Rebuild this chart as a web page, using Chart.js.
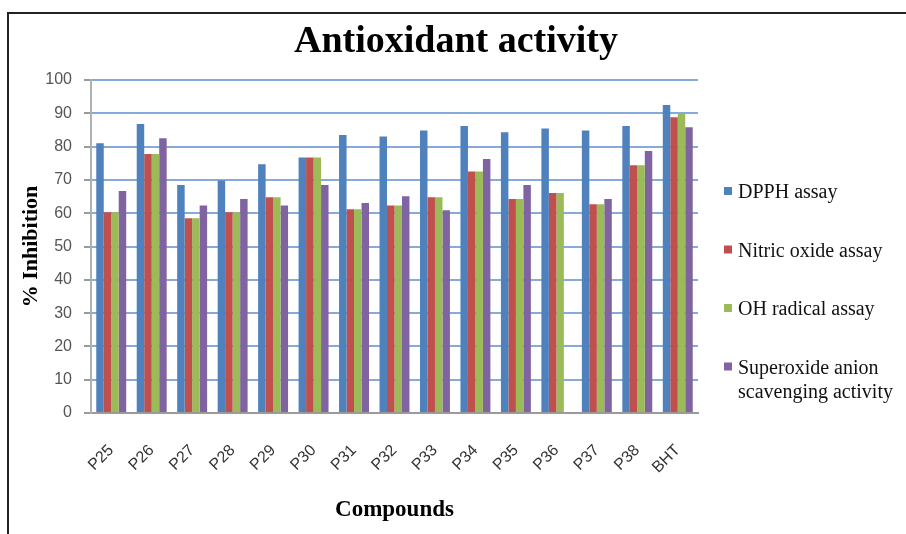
<!DOCTYPE html>
<html>
<head>
<meta charset="utf-8">
<script src="https://cdn.jsdelivr.net/npm/chart.js@4/dist/chart.umd.min.js"></script>
<style>
  html, body { margin: 0; padding: 0; background: #fff; overflow: hidden; }
  #wrap { position: relative; width: 906px; height: 534px; }
  #frame { position: absolute; left: 7px; top: 12px; width: 1000px; height: 700px; border: 2px solid #222; box-sizing: border-box; }
  canvas { position: absolute; left: 0; top: 0; }
</style>
</head>
<body>
<div id="wrap">
  <div id="frame"></div>
  <canvas id="c" width="906" height="534"></canvas>
</div>
<script>
const chartTitle = "Antioxidant activity";
const categories = ["P25","P26","P27","P28","P29","P30","P31","P32","P33","P34","P35","P36","P37","P38","BHT"];
const dpph       = [81.0, 86.8, 68.5, 69.8, 74.7, 76.7, 83.5, 83.0, 84.8, 86.2, 84.3, 85.4, 84.8, 86.2, 92.5];
const nitricOxide= [60.3, 77.8, 58.5, 60.3, 64.8, 76.7, 61.2, 62.3, 64.8, 72.5, 64.3, 66.1, 62.7, 74.4, 88.8];
const ohRadical  = [60.3, 77.8, 58.5, 60.3, 64.8, 76.7, 61.2, 62.3, 64.8, 72.5, 64.3, 66.1, 62.7, 74.4, 89.9];
const superoxide = [66.7, 82.5, 62.3, 64.3, 62.3, 68.5, 63.1, 65.1, 60.9, 76.3, 68.5, 0,    64.3, 78.7, 85.8];
const seriesLabels = [["DPPH assay"], ["Nitric oxide assay"], ["OH radical assay"], ["Superoxide anion", "scavenging activity"]];
const yTicks = [0,10,20,30,40,50,60,70,80,90,100];

const colors = ["#4F81BD", "#C0504D", "#9BBB59", "#8064A2"];
const seriesData = [dpph, nitricOxide, ohRadical, superoxide];

const titleAndLegendPlugin = {
  id: 'titleAndLegend',
  afterDraw(chart) {
    const ctx = chart.ctx;
    ctx.save();
    // title
    ctx.fillStyle = "#000";
    ctx.font = "bold 38px 'Liberation Serif', 'Times New Roman', serif";
    ctx.textAlign = "center";
    ctx.textBaseline = "alphabetic";
    ctx.fillText(chartTitle, 456, 52);
    // legend
    const startY = 191;
    const step = 58.5;
    chart.data.datasets.forEach((ds, i) => {
      const lines = seriesLabels[i];
      const y = startY + i * step;
      ctx.fillStyle = ds.backgroundColor;
      ctx.fillRect(724, y - 4, 8, 8);
      ctx.fillStyle = "#111";
      ctx.font = "20px 'Liberation Serif', 'Times New Roman', serif";
      ctx.textBaseline = "middle";
      ctx.textAlign = "left";
      lines.forEach((t, j) => ctx.fillText(t, 738, y + 2 + j * 24));
    });
    ctx.restore();
  }
};

new Chart(document.getElementById('c'), {
  type: 'bar',
  data: {
    labels: categories,
    datasets: seriesData.map((d, i) => ({
      label: seriesLabels[i].join(' '),
      data: d,
      backgroundColor: colors[i],
      borderWidth: 0,
      categoryPercentage: 0.74,
      barPercentage: 1.0
    }))
  },
  options: {
    responsive: false,
    animation: false,
    devicePixelRatio: 1,
    layout: { padding: { left: 8, right: 208, top: 80, bottom: 0 } },
    plugins: {
      legend: { display: false },
      tooltip: { enabled: false },
      title: { display: false }
    },
    scales: {
      x: {
        grid: { display: false, drawTicks: false },
        border: { display: true, color: "#9a9a9a", width: 2 },
        ticks: {
          autoSkip: false, minRotation: 45, maxRotation: 45, padding: 28,
          color: "#333",
          font: { family: "'Liberation Sans', Arial, sans-serif", size: 16 }
        },
        title: {
          display: true, text: "Compounds", color: "#000",
          font: { family: "'Liberation Serif', 'Times New Roman', serif", size: 23, weight: 'bold' },
          padding: { top: 10, bottom: 10 }
        },
        afterFit(scale) { scale.height = 121; }
      },
      y: {
        min: 0, max: 100,
        afterBuildTicks(scale) { scale.ticks = yTicks.map(v => ({ value: v })); },
        grid: { color: (c) => c.tick && c.tick.value === 0 ? "#9a9a9a" : "#86AADB", lineWidth: 2, tickLength: 7, tickColor: "#9a9a9a" },
        border: { display: true, color: "#b0b0b0", width: 2 },
        ticks: {
          padding: 12,
          color: "#555",
          font: { family: "'Liberation Sans', Arial, sans-serif", size: 16 }
        },
        title: {
          display: true, text: "% Inhibition", color: "#000",
          font: { family: "'Liberation Serif', 'Times New Roman', serif", size: 22, weight: 'bold' },
          padding: { top: 10, bottom: 4 }
        },
        afterFit(scale) { scale.width = 83; }
      }
    }
  },
  plugins: [titleAndLegendPlugin]
});
</script>
</body>
</html>
